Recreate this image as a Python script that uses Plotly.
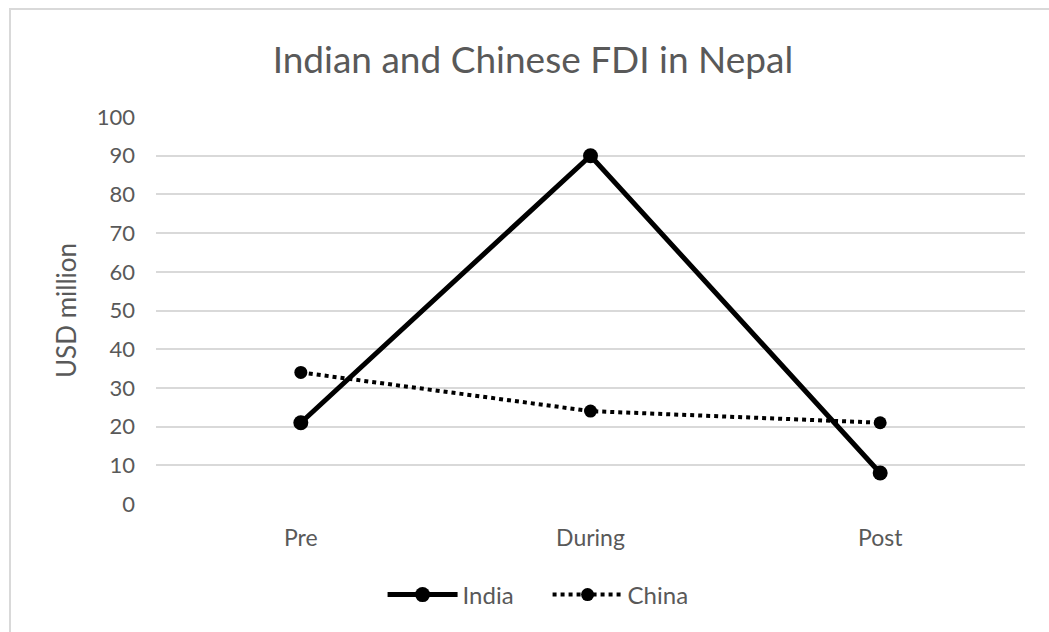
import plotly.graph_objects as go

# Periods and FDI inflows (USD million)
periods = ["Pre", "During", "Post"]
india_fdi = [21, 90, 8]
china_fdi = [34, 24, 21]
y_ticks = [0, 10, 20, 30, 40, 50, 60, 70, 80, 90, 100]

TEXT = "#595959"
GRID = "#d9d9d9"
FONT = "Lato, Calibri, sans-serif"

fig = go.Figure()
fig.add_trace(go.Scatter(
    x=periods, y=india_fdi, name="India", mode="lines+markers",
    line=dict(color="#000000", width=5),
    marker=dict(symbol="circle", size=15, color="#000000"),
))
fig.add_trace(go.Scatter(
    x=periods, y=china_fdi, name="China", mode="lines+markers",
    line=dict(color="#000000", width=4, dash="dot"),
    marker=dict(symbol="circle", size=13, color="#000000"),
))

# light chart-area frame
fig.add_shape(type="rect", xref="paper", yref="paper",
              x0=-0.168, x1=1.2, y0=-0.6, y1=1.279,
              line=dict(color=GRID, width=2), layer="below")

fig.update_layout(
    width=1049, height=632,
    margin=dict(l=156, r=24, t=117, b=128),
    paper_bgcolor="white", plot_bgcolor="white",
    font=dict(family=FONT, color=TEXT, size=23),
    title=dict(text="Indian and Chinese FDI in Nepal", x=0.508, xref="container",
               xanchor="center", y=1 - 60 / 632, yref="container", yanchor="middle",
               font=dict(size=37, color=TEXT, family=FONT)),
    showlegend=True,
    legend=dict(orientation="h", x=0.522, xref="container", xanchor="center",
                y=1 - 595 / 632, yref="container", yanchor="middle",
                font=dict(size=24, color=TEXT), itemwidth=70,
                entrywidth=80, entrywidthmode="pixels"),
    xaxis=dict(range=[-0.5, 2.5], showgrid=False, showline=False, zeroline=False,
               ticks="", ticklabelstandoff=18, tickfont=dict(size=23, color=TEXT)),
    yaxis=dict(range=[0, 100], tickvals=y_ticks, showgrid=True, gridcolor=GRID,
               gridwidth=2, zeroline=False, showline=False, ticks="",
               ticklabelstandoff=20, tickfont=dict(size=22, color=TEXT),
               title=dict(text="USD million", standoff=12,
                          font=dict(size=26, color=TEXT))),
)

fig.write_html("out.html")
